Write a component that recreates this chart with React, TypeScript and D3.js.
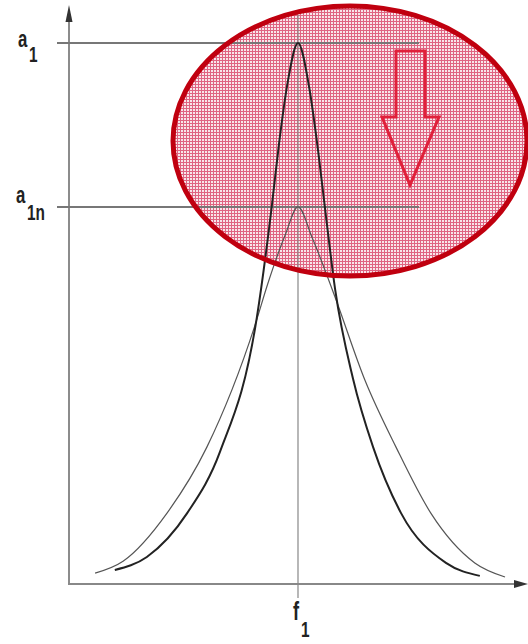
import React from "react";
import * as d3 from "d3";

// Resonance curves: sharp peak (amplitude a1) and damped peak (a1n), both at f1
const freqSharp = [10.0, 17.0, 25.8, 33.0, 41.0, 44.3, 45.8, 47.8, 50.0, 52.4, 54.4, 56.1, 58.1, 62.0, 66.4, 72.5, 82.3, 89.7];
const ampSharp = [0.026, 0.05, 0.131, 0.245, 0.492, 0.7, 0.81, 0.93, 1.0, 0.92, 0.8, 0.68, 0.545, 0.38, 0.253, 0.131, 0.039, 0.015];

const freqDamped = [5.7, 11.8, 21.4, 30.1, 40.6, 43.4, 47.2, 50.0, 53.1, 58.1, 64.6, 71.4, 79.0, 88.6, 95.2];
const ampDamped = [0.02, 0.042, 0.131, 0.253, 0.478, 0.555, 0.645, 0.697, 0.64, 0.53, 0.377, 0.253, 0.131, 0.039, 0.013];

const levelA1 = 1.0;
const levelA1n = 0.697;
const freqF1 = 50;

const W = 528;
const H = 644;

const x = d3.scaleLinear().domain([0, 100]).range([69, 527]);
const y = d3.scaleLinear().domain([0, 1]).range([584, 43]);

const line = d3
  .line<[number, number]>()
  .x((d) => x(d[0]))
  .y((d) => y(d[1]))
  .curve(d3.curveMonotoneX);

const sharpPath = line(freqSharp.map((f, i) => [f, ampSharp[i]]) as [number, number][]) || "";
const dampedPath = line(freqDamped.map((f, i) => [f, ampDamped[i]]) as [number, number][]) || "";

const font = "'Liberation Sans', Arial, sans-serif";

function Label({ x0, y0, size, text }: { x0: number; y0: number; size: number; text: string }) {
  return (
    <g transform={`translate(${x0},${y0}) scale(0.7,1)`}>
      <text x={0} y={0} fontSize={size} fontFamily={font} fontWeight="bold" fill="#222">
        {text}
      </text>
    </g>
  );
}

export default function App() {
  const axisX = x(0);
  const axisY = y(0);
  const lineStart = 57;
  const lineEnd = 419;

  // down-arrow outline inside the highlight
  const arrow = [
    [396, 51],
    [425, 51],
    [425, 117],
    [439, 117],
    [410, 185],
    [382, 117],
    [396, 117],
  ];

  return (
    <svg
      width={W}
      height={H}
      style={{ position: "absolute", left: 0, top: 0, background: "#fff" }}
    >
      <defs>
        <pattern id="mesh" width={3} height={3} patternUnits="userSpaceOnUse">
          <rect width={3} height={3} fill="#f8e6ea" />
          <rect x={0} y={0} width={3} height={1} fill="#df6482" />
          <rect x={0} y={0} width={1} height={3} fill="#df6482" />
        </pattern>
      </defs>

      {/* highlight fill */}
      <ellipse cx={350} cy={141} rx={177} ry={135} fill="url(#mesh)" />

      {/* axes */}
      <line x1={axisX} y1={20} x2={axisX} y2={axisY} stroke="#666" strokeWidth={1.5} />
      <path d={`M${axisX},5 L${axisX - 3.5},22 L${axisX + 3.5},22 Z`} fill="#333" />
      <line x1={axisX - 1} y1={axisY} x2={518} y2={axisY} stroke="#888" strokeWidth={2} />
      <path d={`M528,${axisY} L514,${axisY - 4} L514,${axisY + 4} Z`} fill="#333" />

      {/* reference levels */}
      <line x1={lineStart} y1={y(levelA1)} x2={lineEnd} y2={y(levelA1)} stroke="#777" strokeWidth={2} />
      <line x1={lineStart} y1={y(levelA1n)} x2={lineEnd} y2={y(levelA1n)} stroke="#777" strokeWidth={2} />
      <line x1={x(freqF1)} y1={15} x2={x(freqF1)} y2={598} stroke="#888" strokeWidth={1.2} />

      {/* curves */}
      <path d={dampedPath} fill="none" stroke="#555" strokeWidth={1.2} />
      <path d={sharpPath} fill="none" stroke="#222" strokeWidth={2} />

      {/* highlight outline and arrow */}
      <ellipse cx={350} cy={141} rx={177} ry={135} fill="none" stroke="#c0000f" strokeWidth={5} />
      <polygon
        points={arrow.map((p) => p.join(",")).join(" ")}
        fill="none"
        stroke="#e0203a"
        strokeWidth={3}
        strokeLinejoin="miter"
      />

      {/* labels */}
      <Label x0={18} y0={47} size={24} text="a" />
      <Label x0={29} y0={62} size={22} text="1" />
      <Label x0={16} y0={203} size={24} text="a" />
      <Label x0={27} y0={220} size={22} text="1n" />
      <Label x0={293} y0={620} size={26} text="f" />
      <Label x0={301} y0={637} size={22} text="1" />
    </svg>
  );
}
